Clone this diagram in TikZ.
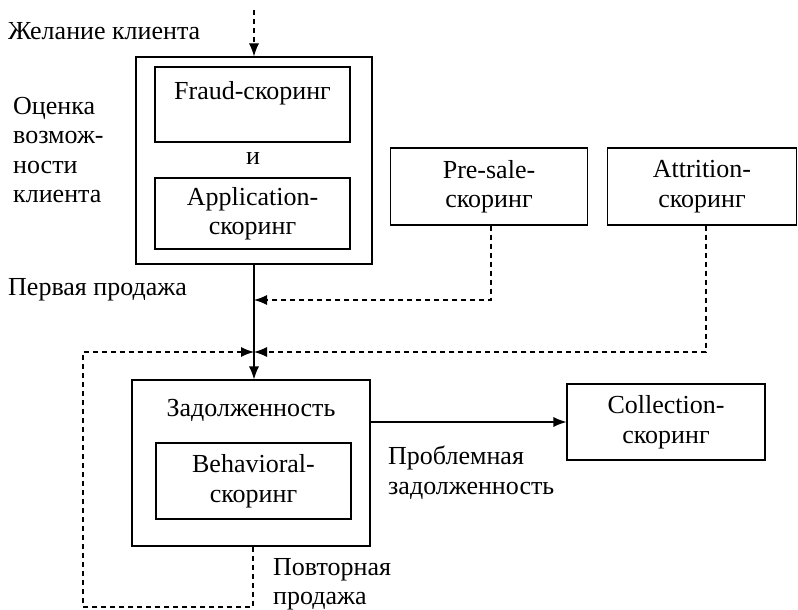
\documentclass[tikz,border=0pt]{standalone}
\usepackage{fontspec}
\setmainfont{Liberation Serif}
\usetikzlibrary{arrows.meta}
\begin{document}
\begin{tikzpicture}[x=1pt,y=-1pt,
  every node/.style={font=\fontsize{26}{29.5}\selectfont, inner sep=0pt},
  box/.style={draw, line width=1.1pt, rectangle, align=center},
  lbl/.style={anchor=west, align=left},
  sline/.style={line width=1.1pt},
  dline/.style={line width=1.1pt, dash pattern=on 5pt off 4pt},
  tip/.style={-{Latex[length=13pt,width=10pt]}}]
\useasboundingbox (0,0) rectangle (798,610);
% boxes
\node[box, minimum width=236pt, minimum height=207pt] (outer1) at (254,160.5) {};
\node[box, minimum width=195pt, minimum height=75pt] (fraud) at (252.5,104.5) {};
\node[anchor=center] (fraudt) at (252.5,93) {Fraud-скоринг};
\node (andt) at (253,159) {и};
\node[box, minimum width=195pt, minimum height=71pt] (app) at (252.5,213.5) {Application-\\скоринг};
\node[box, minimum width=197pt, minimum height=77pt] (presale) at (489,186.5) {Pre-sale-\\скоринг};
\node[box, minimum width=189pt, minimum height=77pt] (attr) at (702,186.5) {Attrition-\\скоринг};
\node[box, minimum width=238pt, minimum height=166pt] (outer2) at (251,463) {};
\node (debt) at (251,410) {Задолженность};
\node[box, minimum width=195pt, minimum height=76pt] (behav) at (253.5,481) {Behavioral-\\скоринг};
\node[box, minimum width=198pt, minimum height=76pt] (coll) at (666,422) {Collection-\\скоринг};
% labels
\node[lbl] (wish) at (8,31) {Желание клиента};
\node[anchor=north west, align=left] (eval) at (13,97) {Оценка\\возмож-\\ности\\клиента};
\node[lbl] (first) at (8,290) {Первая продажа};
\node[anchor=north west, align=left] (prob) at (388,446) {Проблемная\\задолженность};
\node[anchor=north west, align=left] (rep) at (273,558) {Повторная\\продажа};
% coordinates
\coordinate (top) at (254,10);
\coordinate (j1) at (254,300);
\coordinate (j2) at (254,352);
\coordinate (lb) at (83,607);
\coordinate (lt) at (83,352);
% connectors
\draw[dline, tip] (top) -- (top |- outer1.north);
\draw[sline, tip] (outer1.south -| top) -- (outer2.north -| top);
\draw[dline, tip] (presale.south -| 491,0) -- (491,300) -- (j1);
\draw[dline, tip] (attr.south -| 706,0) -- (706,352) -- (j2);
\draw[dline, tip] (outer2.south -| 253,0) -- (253,607) -- (lb) -- (lt) -- (j2);
\draw[sline, tip] (coll.west -| outer2.east) -- (coll.west);
\end{tikzpicture}
\end{document}
